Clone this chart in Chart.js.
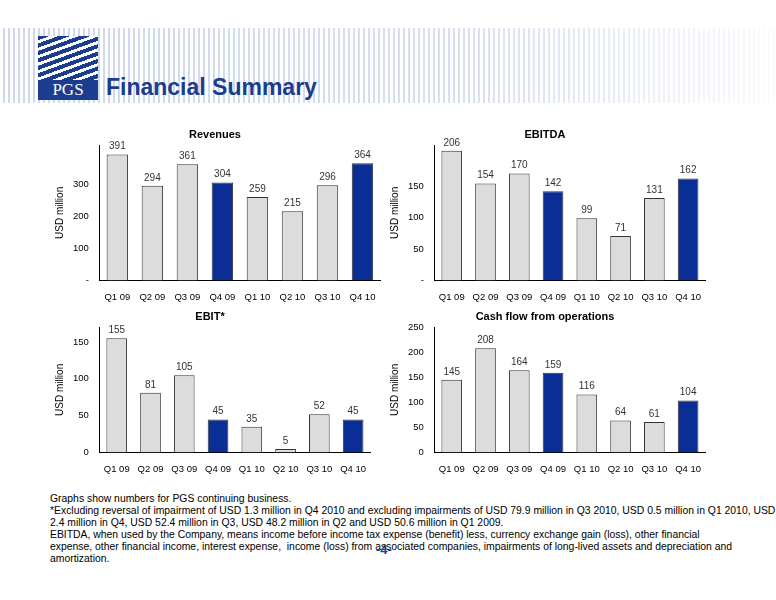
<!DOCTYPE html>
<html><head><meta charset="utf-8">
<script src="https://cdn.jsdelivr.net/npm/chart.js@4/dist/chart.umd.min.js"></script>
<style>
body{margin:0;width:776px;height:600px;background:#fff;font-family:"Liberation Sans",Arial,sans-serif;position:relative;overflow:hidden}
#banner{position:absolute;left:0;top:28px;width:776px;height:75px;background:repeating-linear-gradient(90deg,#fff 0 3px,#c9d3ea 3px 5px);opacity:.9}
#banner2{position:absolute;left:0;top:28px;width:776px;height:75px;background:linear-gradient(90deg,rgba(255,255,255,0) 0%,rgba(255,255,255,.2) 60%,rgba(255,255,255,.9) 100%)}
#logo{position:absolute;left:38px;top:36px;width:60px;height:62px;background:repeating-linear-gradient(160deg,#1b3d8f 0 4px,#fff 4px 7px)}
#logotxt{position:absolute;left:38px;top:80px;width:60px;height:20px;background:#1b3d8f;color:#fff;font-family:"Liberation Serif",serif;font-size:17px;text-align:center;line-height:20px}
#title{position:absolute;left:106px;top:74px;font-size:23px;font-weight:bold;color:#1b3d8f}
.c{position:absolute}
#foot{position:absolute;left:50px;top:493px;font-size:10.4px;line-height:12px;color:#000;white-space:nowrap}
#pg{position:absolute;left:376px;top:542px;font-size:13px;color:#1b3d8f;font-weight:bold}
</style></head><body>
<div id="banner"></div><div id="banner2"></div>
<div id="logo"></div><div id="logotxt">PGS</div>
<div id="title">Financial Summary</div>
<div class="c" style="left:50px;top:128px;width:340px;height:178px"><canvas id="c1"></canvas></div>
<div class="c" style="left:385px;top:128px;width:330px;height:178px"><canvas id="c2"></canvas></div>
<div class="c" style="left:50px;top:310px;width:330px;height:168px"><canvas id="c3"></canvas></div>
<div class="c" style="left:385px;top:310px;width:330px;height:168px"><canvas id="c4"></canvas></div>
<div id="foot">Graphs show numbers for PGS continuing business.<br>*Excluding reversal of impairment of USD 1.3 million in Q4 2010 and excluding impairments of USD 79.9 million in Q3 2010, USD 0.5 million in Q1 2010, USD<br>2.4 million in Q4, USD 52.4 million in Q3, USD 48.2 million in Q2 and USD 50.6 million in Q1 2009.<br>EBITDA, when used by the Company, means income before income tax expense (benefit) less, currency exchange gain (loss), other financial<br>expense, other financial income, interest expense,&nbsp; income (loss) from associated companies, impairments of long-lived assets and depreciation and<br>amortization.</div>
<div id="pg">-4-</div>
<script>
const quarters=["Q1 09","Q2 09","Q3 09","Q4 09","Q1 10","Q2 10","Q3 10","Q4 10"];
const revenues=[391,294,361,304,259,215,296,364];
const ebitda=[206,154,170,142,99,71,131,162];
const ebit=[155,81,105,45,35,5,52,45];
const cashflow=[145,208,164,159,116,64,61,104];
const labelPlugin={id:'lbl',afterDatasetsDraw(ch){const c=ch.ctx;const m=ch.getDatasetMeta(0);c.save();c.font='10px "Liberation Sans"';c.fillStyle='#333';c.textAlign='center';c.textBaseline='bottom';
m.data.forEach((b,i)=>{c.fillText(ch.data.datasets[0].data[i],b.x,b.y-3)});c.restore();}};
function mk(id,title,data,max,step,dash){
 const colors=data.map((v,i)=>i===3||i===7?'#0a2d96':'#dcdcdc');
 new Chart(document.getElementById(id),{type:'bar',plugins:[labelPlugin],
 data:{labels:quarters,datasets:[{data:data,backgroundColor:colors,borderColor:'#333',borderWidth:1,categoryPercentage:0.9,barPercentage:0.68}]},
 options:{responsive:true,maintainAspectRatio:false,animation:false,layout:{padding:{right:10}},
 plugins:{legend:{display:false},tooltip:{enabled:false},title:{display:true,text:title,font:{size:11,weight:'bold',family:'Liberation Sans'},color:'#000',padding:{bottom:4}}},
 scales:{x:{grid:{display:false},border:{color:'#000'},ticks:{color:'#000',font:{size:9.5}}},
 y:{min:0,max:max,grid:{display:false},border:{color:'#000'},title:{display:true,text:'USD million',font:{size:10},color:'#000'},
 afterBuildTicks:a=>{a.ticks=a.ticks.filter(t=>t.value%step===0)},
 ticks:{stepSize:step,color:'#000',font:{size:9.5},callback:v=>v===0&&dash?'-':v}}}}});
}
mk('c1','Revenues',revenues,420,100,true);
mk('c2','EBITDA',ebitda,215,50,true);
mk('c3','EBIT*',ebit,170,50,false);
mk('c4','Cash flow from operations',cashflow,250,50,false);
</script></body></html>
